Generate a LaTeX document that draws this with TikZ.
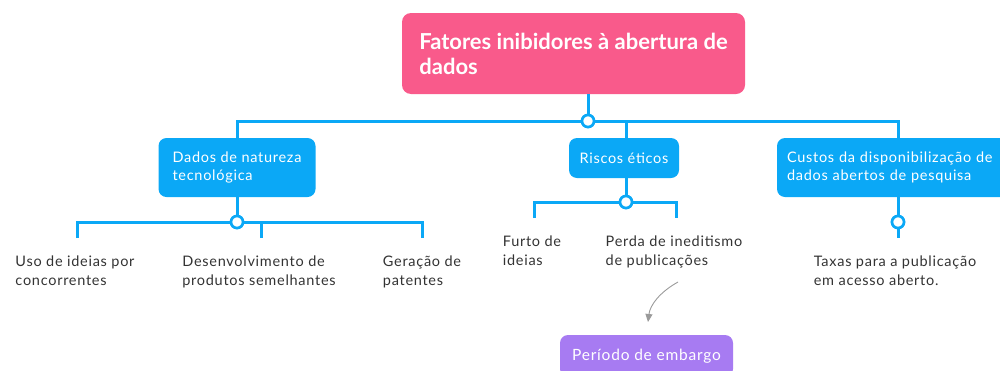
\documentclass[tikz,border=0pt]{standalone}
\usepackage{fontspec}
\setmainfont{Lato}
\newfontfamily\widefont[LetterSpace=5]{Lato}
\usetikzlibrary{arrows.meta}
\definecolor{rootpink}{HTML}{F95A8B}
\definecolor{mmblue}{HTML}{0BA8F6}
\definecolor{mmpurple}{HTML}{A77BF2}
\definecolor{leaftext}{HTML}{333333}
\definecolor{arrowgray}{HTML}{9A9A9A}
\tikzset{
  rootbox/.style={fill=rootpink, rounded corners=9pt, text=white, align=left,
    font=\fontsize{22}{25}\selectfont\bfseries, minimum width=343pt, minimum height=81pt, inner sep=0pt},
  mainbox/.style={fill=mmblue, rounded corners=8pt, text=white, align=left,
    font=\widefont\fontsize{14.5}{18.5}\selectfont, inner sep=0pt},
  embargobox/.style={fill=mmpurple, rounded corners=8pt, text=white, align=left,
    font=\widefont\fontsize{15.5}{18}\selectfont, inner sep=0pt},
  leaf/.style={anchor=north, align=left, text=leaftext, inner xsep=0pt, inner ysep=18pt,
    font=\widefont\fontsize{14.5}{19}\selectfont},
  branch/.style={draw=mmblue, line width=3pt},
  knot/.style={circle, draw=mmblue, fill=white, line width=2.6pt, minimum size=12pt, inner sep=0pt},
  relation/.style={draw=arrowgray, line width=0.9pt, -{Triangle[length=8pt,width=7pt]}},
}
\begin{document}
\begin{tikzpicture}[x=1pt,y=-1pt]
\useasboundingbox (0,0) rectangle (1000,370);
% nodes
\node[rootbox] (root) at (573.5,53.5) {Fatores inibidores à abertura de\\dados};
\node[mainbox, minimum width=157pt, minimum height=59pt] (dados) at (237,167.5) {Dados de natureza\\tecnológica};
\node[mainbox, minimum width=110pt, minimum height=40pt] (riscos) at (624,158) {Riscos éticos};
\node[mainbox, text width=222pt, inner xsep=10pt, minimum height=59pt] (custos) at (898,167.5) {Custos da disponibilização de\\dados abertos de pesquisa};
\node[embargobox, minimum width=173pt, minimum height=42pt] (embargo) at (646.5,356) {Período de embargo};
% knots
\node[knot] (k0) at (588,121) {};
\node[knot] (k1) at (237,222) {};
\node[knot] (k2) at (626,202) {};
\node[knot] (k3) at (898,222) {};
% leaves
\node[leaf] (uso) at (75,238) {Uso de ideias por\\concorrentes};
\node[leaf] (desenv) at (259,238) {Desenvolvimento de\\produtos semelhantes};
\node[leaf] (geracao) at (422,238) {Geração de\\patentes};
\node[leaf] (furto) at (532,218) {Furto de\\ideias};
\node[leaf] (perda) at (674,218) {Perda de ineditismo\\de publicações};
\node[leaf] (taxas) at (895,238) {Taxas para a publicação\\em acesso aberto.};
% branch coordinates
\coordinate (r0) at (588,94);
\coordinate (a0) at (626,138);
\coordinate (u0) at (77,238);
\coordinate (d0) at (261,238);
\coordinate (g0) at (422,238);
\coordinate (f0) at (534,218);
\coordinate (p0) at (676,218);
\coordinate (t0) at (898,238);
% connectors
\draw[branch] (r0) -- (k0);
\draw[branch] (dados.north) |- (k0.west);
\draw[branch] (k0.east) -| (custos.north);
\draw[branch] (k0) -| (a0);
\draw[branch] (dados.south) -- (k1);
\draw[branch] (u0) |- (k1.west);
\draw[branch] (k1.east) -| (g0);
\draw[branch] (d0) -- (d0 |- k1);
\draw[branch] (riscos.south -| k2) -- (k2);
\draw[branch] (f0) |- (k2.west);
\draw[branch] (k2.east) -| (p0);
\draw[branch] (custos.south) -- (k3);
\draw[branch] (k3.south) -- (t0);
\node[knot] at (k0) {};
\node[knot] at (k1) {};
\node[knot] at (k2) {};
\node[knot] at (k3) {};
% relation arrow
\coordinate (ra) at (678,282);
\coordinate (rb) at (648,322);
\draw[relation] (ra) .. controls (660,292) and (650,305) .. (rb);
\end{tikzpicture}
\end{document}
